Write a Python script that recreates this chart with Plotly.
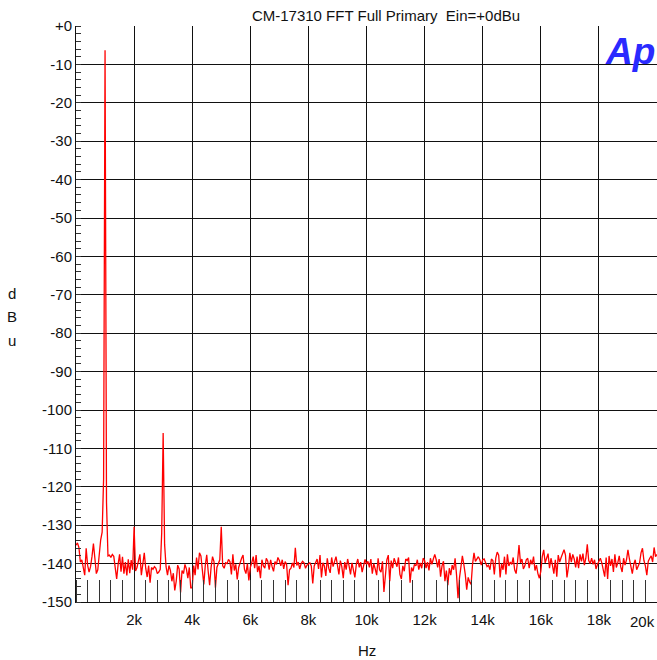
import plotly.graph_objects as go

# ---------------- data ----------------
# FFT bin grid: 50 Hz spacing, 0 Hz .. 20 kHz
freq_hz = [i * 50 for i in range(401)]

# levels in dBu, 20 bins per kHz row
level_dbu = [
    -135.2, -134.6, -135.8, -139.6, -139.0, -141.2, -143.0, -136.0, -140.4, -142.2, -140.8, -138.2, -134.8, -138.6, -142.6, -141.6, -137.4, -133.8, -131.8, -118.0,
    -6.3, -124.0, -138.0, -137.8, -138.4, -137.6, -138.1, -141.2, -144.0, -140.2, -137.6, -142.1, -138.2, -142.6, -139.6, -143.1, -138.9, -142.5, -139.1, -141.6,
    -130.4, -141.9, -141.0, -139.3, -137.6, -143.0, -140.0, -137.2, -141.2, -143.5, -140.5, -145.0, -141.0, -141.5, -140.8, -141.2, -142.6, -142.2, -141.5, -132.0,
    -106.0, -135.0, -140.8, -143.0, -140.5, -141.8, -144.6, -142.5, -147.0, -144.6, -140.4, -141.4, -147.5, -141.8, -142.6, -140.2, -141.4, -143.8, -141.0, -146.3,
    -146.3, -140.5, -143.0, -138.4, -141.5, -137.2, -138.0, -142.0, -145.4, -140.5, -137.7, -142.0, -145.6, -141.0, -138.2, -139.5, -146.3, -141.0, -140.2, -139.0,
    -130.4, -140.6, -141.2, -139.8, -140.0, -138.9, -139.5, -142.8, -137.6, -141.8, -140.2, -144.1, -141.0, -139.6, -138.6, -137.8, -141.5, -142.6, -140.0, -144.4,
    -141.0, -139.8, -138.2, -141.2, -137.8, -142.2, -140.6, -143.8, -139.0, -140.6, -141.2, -138.6, -139.4, -141.6, -139.0, -140.8, -142.0, -139.5, -140.2, -138.4,
    -139.2, -140.6, -139.0, -141.4, -139.5, -140.2, -145.6, -141.6, -141.2, -139.8, -141.0, -135.9, -140.5, -139.6, -141.4, -140.0, -139.4, -139.8, -141.2, -140.4,
    -140.2, -139.8, -140.6, -145.2, -140.6, -139.4, -138.8, -141.4, -137.8, -143.6, -139.8, -140.6, -143.2, -138.6, -141.2, -142.4, -138.4, -140.8, -139.6, -138.2,
    -140.4, -142.8, -139.2, -140.8, -143.8, -139.6, -141.6, -138.8, -140.6, -142.8, -139.8, -141.6, -143.6, -140.2, -138.8, -141.0, -139.6, -142.2, -140.4, -138.9,
    -140.2, -139.4, -141.0, -138.8, -142.6, -140.0, -141.4, -143.0, -138.6, -141.6, -142.2, -139.4, -147.4, -143.2, -139.0, -137.8, -144.6, -139.2, -141.2, -138.6,
    -140.0, -140.8, -138.4, -142.8, -144.0, -140.6, -142.0, -138.8, -139.2, -138.4, -145.0, -141.0, -142.0, -140.2, -140.6, -139.0, -141.6, -139.8, -141.2, -138.6,
    -139.2, -141.2, -139.6, -141.8, -138.6, -140.2, -138.8, -137.6, -139.0, -141.0, -138.8, -143.4, -140.6, -139.4, -144.6, -141.8, -145.6, -141.2, -143.0, -140.4,
    -141.6, -138.6, -143.0, -149.0, -143.8, -141.0, -138.0, -140.2, -142.8, -146.8, -143.6, -144.8, -145.4, -140.2, -137.2, -139.4, -138.6, -138.2, -139.0, -140.4,
    -139.0, -138.8, -139.8, -140.8, -140.4, -141.6, -138.8, -139.2, -142.8, -138.6, -137.0, -137.8, -143.6, -140.0, -141.6, -138.2, -142.8, -137.6, -140.6, -139.6,
    -140.2, -138.4, -141.6, -142.6, -139.4, -135.2, -139.8, -138.8, -141.4, -140.6, -139.0, -138.6, -141.2, -139.0, -140.2, -138.2, -141.8, -140.4, -142.6, -143.8,
    -142.0, -138.2, -136.4, -139.8, -138.6, -137.4, -141.2, -138.6, -140.4, -142.6, -139.0, -143.4, -137.8, -139.6, -138.4, -137.2, -136.4, -137.8, -143.6, -141.0,
    -137.2, -139.6, -137.6, -138.8, -141.0, -138.2, -141.2, -137.6, -139.4, -137.4, -140.4, -138.6, -135.0, -139.2, -140.0, -138.6, -140.2, -139.0, -141.4, -140.2,
    -139.4, -138.6, -139.8, -141.8, -143.4, -138.4, -144.0, -138.0, -140.6, -138.8, -142.2, -137.6, -141.0, -139.8, -138.0, -140.8, -142.2, -138.6, -140.4, -139.0,
    -136.4, -138.8, -141.2, -142.6, -140.2, -139.0, -141.6, -140.4, -139.8, -137.2, -136.0, -139.2, -140.6, -143.0, -139.4, -138.6, -138.0, -139.6, -135.8, -138.2,
    -137.6,
]

x_tick_vals = [2000, 4000, 6000, 8000, 10000, 12000, 14000, 16000, 18000]
x_tick_text = ["2k", "4k", "6k", "8k", "10k", "12k", "14k", "16k", "18k"]
x_last_tick = 20000
x_last_text = "20k"

y_tick_vals = [-150, -140, -130, -120, -110, -100, -90, -80, -70, -60, -50, -40, -30, -20, -10, 0]
y_tick_text = ["-150", "-140", "-130", "-120", "-110", "-100", "-90", "-80", "-70", "-60",
               "-50", "-40", "-30", "-20", "-10", "+0"]

title_text = "CM-17310 FFT Full Primary\u00a0 Ein=+0dBu"
x_label = "Hz"
y_label_letters = ["d", "B", "u"]
logo_text = "Ap"

# ---------------- styling ----------------
FONT = "Liberation Sans, Arial, sans-serif"
INK = "#111111"
W, H = 657, 660
L, R, T, B = 76, 0, 26, 58
PW, PH = W - L - R, H - T - B


def px_x(px):
    return (px - L) / PW


def px_y(py):
    return (H - B - py) / PH


fig = go.Figure()
fig.add_trace(go.Scatter(
    x=freq_hz, y=level_dbu, mode="lines",
    line=dict(color="#ff0000", width=1.3),
    hoverinfo="skip",
))

annotations = [
    dict(text=x_last_text, x=x_last_tick, xref="x", xanchor="right",
         y=px_y(621), yref="paper", yanchor="middle", showarrow=False,
         font=dict(family=FONT, size=15, color=INK)),
    dict(text=x_label, x=px_x(367), xref="paper", xanchor="center",
         y=px_y(650), yref="paper", yanchor="middle", showarrow=False,
         font=dict(family=FONT, size=15, color=INK)),
    dict(text="<b><i>" + logo_text + "</i></b>", x=1, xref="paper", xanchor="right",
         y=px_y(52), yref="paper", yanchor="middle", showarrow=False,
         font=dict(family=FONT, size=37, color="#2a2aff")),
]
for letter, py in zip(y_label_letters, [293, 316, 340]):
    annotations.append(dict(text=letter, x=px_x(12), xref="paper", xanchor="center",
                            y=px_y(py), yref="paper", yanchor="middle", showarrow=False,
                            font=dict(family=FONT, size=15, color=INK)))

fig.update_layout(
    width=W, height=H,
    margin=dict(l=L, r=R, t=T, b=B, pad=0),
    paper_bgcolor="white", plot_bgcolor="white",
    showlegend=False,
    title=dict(text=title_text, x=386 / W, xref="container", xanchor="center",
               y=1 - 16 / H, yref="container", yanchor="middle",
               font=dict(family=FONT, size=15, color=INK)),
    annotations=annotations,
)
fig.update_xaxes(
    range=[0, 20000], tickmode="array", tickvals=x_tick_vals, ticktext=x_tick_text,
    showgrid=True, gridcolor=INK, gridwidth=1, zeroline=False,
    showline=True, linecolor=INK, linewidth=1, ticks="",
    tickfont=dict(family=FONT, size=15, color=INK), ticklabelstandoff=4,
    minor=dict(tickmode="linear", tick0=0, dtick=400, ticks="inside", ticklen=22,
               tickcolor="#333333", tickwidth=1, showgrid=False),
)
fig.update_yaxes(
    range=[-150, 0], tickmode="array", tickvals=y_tick_vals, ticktext=y_tick_text,
    showgrid=True, gridcolor=INK, gridwidth=1, zeroline=False,
    showline=True, linecolor=INK, linewidth=1, ticks="",
    tickfont=dict(family=FONT, size=15, color=INK),
    minor=dict(tickmode="linear", tick0=0, dtick=2, ticks="inside", ticklen=5,
               tickcolor="#333333", tickwidth=1, showgrid=False),
)

fig.write_html("out.html")
